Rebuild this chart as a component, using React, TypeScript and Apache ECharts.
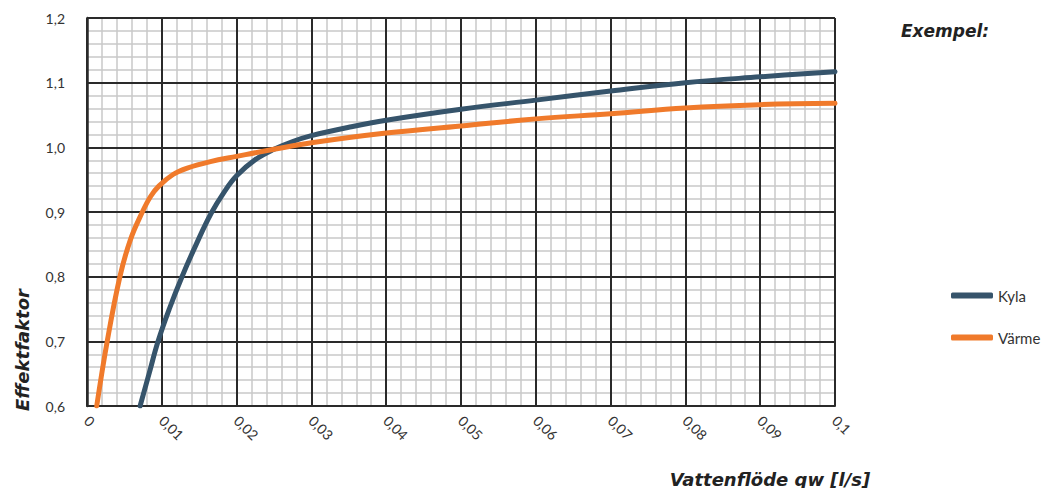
import React, { useEffect, useRef } from "react";
import * as echarts from "echarts";

const kylaData: [number, number][] = [
  [0.0071, 0.6], [0.0083, 0.65], [0.0095, 0.7], [0.011, 0.75], [0.0127, 0.8],
  [0.0146, 0.85], [0.0166, 0.898], [0.0184, 0.932], [0.02, 0.956], [0.0225, 0.981],
  [0.025, 0.997], [0.0275, 1.009], [0.03, 1.018], [0.035, 1.031], [0.04, 1.042],
  [0.05, 1.059], [0.06, 1.073], [0.07, 1.087], [0.08, 1.1], [0.09, 1.109], [0.1, 1.117],
];
const varmeData: [number, number][] = [
  [0.0013, 0.6], [0.0027, 0.7], [0.0044, 0.8], [0.0058, 0.857], [0.0074, 0.9],
  [0.0085, 0.924], [0.0096, 0.94], [0.0115, 0.958], [0.0134, 0.968], [0.0165, 0.978],
  [0.02, 0.986], [0.025, 0.997], [0.03, 1.007], [0.04, 1.022], [0.05, 1.033],
  [0.06, 1.044], [0.07, 1.052], [0.08, 1.061], [0.09, 1.066], [0.1, 1.068],
];
const seriesNames = ["Kyla", "Värme"];
const seriesColors = ["#36546b", "#f07a2b"];

const xMin = 0, xMax = 0.1, xMajor = 0.01, xMinor = 0.002;
const yMin = 0.6, yMax = 1.2, yMajor = 0.1, yMinor = 0.02;

const fmtX = (v: number) => {
  const r = Math.round(v * 1000) / 1000;
  return String(r).replace(".", ",");
};
const fmtY = (v: number) => v.toFixed(1).replace(".", ",");

export default function App() {
  const ref = useRef<HTMLDivElement>(null);
  useEffect(() => {
    if (!ref.current) return;
    const chart = echarts.init(ref.current, null, { renderer: "svg" });
    const font = "Lato, 'DejaVu Sans', sans-serif";
    const titleFont = "'DejaVu Sans', sans-serif";
    const grid = { left: 87, right: 216, top: 18, bottom: 82 };
    chart.setOption({
      animation: false,
      backgroundColor: "#ffffff",
      grid,
      legend: {
        orient: "vertical",
        left: 946,
        top: 283,
        itemGap: 27,
        itemWidth: 42,
        itemHeight: 6,
        icon: "roundRect",
        data: seriesNames,
        textStyle: { color: "#333", fontSize: 15, fontFamily: font },
      },
      xAxis: [
        {
          type: "value",
          min: xMin,
          max: xMax,
          interval: xMinor,
          position: "bottom",
          z: 0,
          axisLine: { show: false },
          axisTick: { show: false },
          axisLabel: { show: false },
          splitLine: { show: true, lineStyle: { color: "#c8c8c8", width: 1.5 } },
        },
        {
          type: "value",
          min: xMin,
          max: xMax,
          interval: xMajor,
          position: "bottom",
          z: 1,
          axisLine: { show: true, onZero: false, lineStyle: { color: "#2a2a2a", width: 2 } },
          axisTick: { show: false },
          axisLabel: {
            rotate: -45,
            margin: 12,
            color: "#333",
            fontSize: 14,
            fontFamily: font,
            formatter: fmtX,
          },
          splitLine: { show: true, lineStyle: { color: "#2a2a2a", width: 2 } },
        },
      ],
      yAxis: [
        {
          type: "value",
          min: yMin,
          max: yMax,
          interval: yMinor,
          z: 0,
          axisLine: { show: false },
          axisTick: { show: false },
          axisLabel: { show: false },
          splitLine: { show: true, lineStyle: { color: "#c8c8c8", width: 1.5 } },
        },
        {
          type: "value",
          min: yMin,
          max: yMax,
          interval: yMajor,
          position: "left",
          z: 1,
          axisLine: { show: true, onZero: false, lineStyle: { color: "#2a2a2a", width: 2.5 } },
          axisTick: { show: false },
          axisLabel: {
            margin: 22,
            color: "#333",
            fontSize: 14,
            fontFamily: font,
            formatter: fmtY,
          },
          splitLine: { show: true, lineStyle: { color: "#2a2a2a", width: 2 } },
        },
      ],
      series: [
        {
          name: seriesNames[0],
          type: "line",
          xAxisIndex: 1,
          yAxisIndex: 1,
          data: kylaData,
          smooth: 0.4,
          symbol: "none",
          z: 5,
          lineStyle: { color: seriesColors[0], width: 5, cap: "round" },
          itemStyle: { color: seriesColors[0] },
        },
        {
          name: seriesNames[1],
          type: "line",
          xAxisIndex: 1,
          yAxisIndex: 1,
          data: varmeData,
          smooth: 0.4,
          symbol: "none",
          z: 5,
          lineStyle: { color: seriesColors[1], width: 5, cap: "round" },
          itemStyle: { color: seriesColors[1] },
        },
      ],
      graphic: [
        {
          type: "text",
          x: 945,
          y: 31,
          style: {
            text: "Exempel:",
            align: "center",
            verticalAlign: "middle",
            fill: "#222",
            font: `italic bold 17px ${titleFont}`,
          },
        },
        {
          type: "text",
          x: 770,
          y: 479,
          style: {
            text: "Vattenflöde qw [l/s]",
            align: "center",
            verticalAlign: "middle",
            fill: "#222",
            font: `italic bold 18px ${titleFont}`,
          },
        },
        {
          type: "text",
          x: 22,
          y: 350,
          rotation: Math.PI / 2,
          style: {
            text: "Effektfaktor",
            align: "center",
            verticalAlign: "middle",
            fill: "#222",
            font: `italic bold 18px ${titleFont}`,
          },
        },
      ],
    });
    return () => chart.dispose();
  }, []);
  return <div ref={ref} style={{ width: 1051, height: 488, position: "absolute", left: 0, top: 0 }} />;
}
